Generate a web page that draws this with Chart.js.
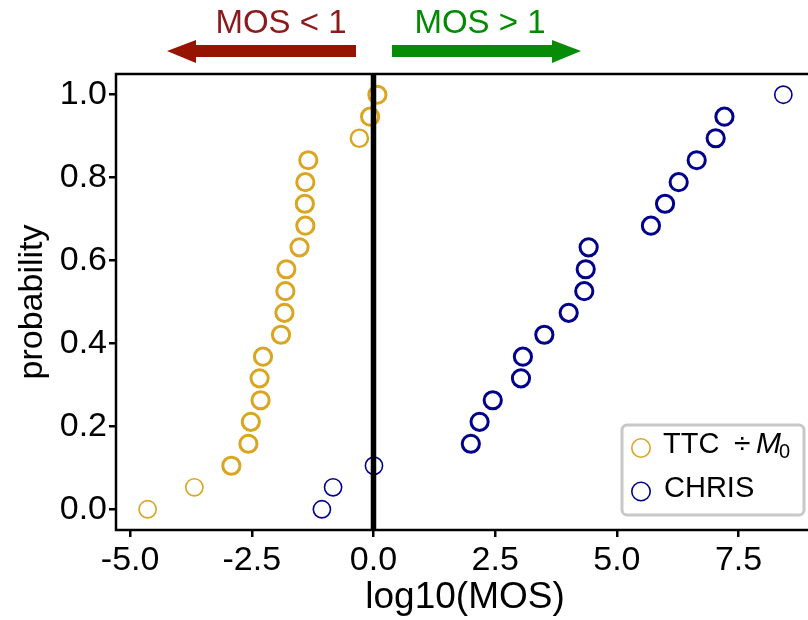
<!DOCTYPE html>
<html>
<head>
<meta charset="utf-8">
<script src="https://cdn.jsdelivr.net/npm/chart.js@4/dist/chart.umd.min.js"></script>
<style>
  html, body { margin: 0; padding: 0; background: #fff; overflow: hidden; }
  canvas { display: block; }
</style>
</head>
<body>
<canvas id="mos" width="830" height="620"></canvas>
<script>
// probabilidade acumulada (20 pontos por série)
var probability = [0.000, 0.053, 0.105, 0.158, 0.211, 0.263, 0.316, 0.368, 0.421, 0.474,
                   0.526, 0.579, 0.632, 0.684, 0.737, 0.789, 0.842, 0.895, 0.947, 1.000];
var ttcMos = [-4.64, -3.68, -2.92, -2.57, -2.52, -2.32, -2.34, -2.27, -1.90, -1.83,
              -1.81, -1.79, -1.52, -1.40, -1.41, -1.40, -1.34, -0.29, -0.07, 0.08];
var chrisMos = [-1.06, -0.83, 0.01, 2.00, 2.18, 2.45, 3.03, 3.07, 3.51, 4.01,
                4.33, 4.36, 4.42, 5.70, 5.99, 6.27, 6.64, 7.03, 7.21, 8.42];
var xTicks = [-5.0, -2.5, 0.0, 2.5, 5.0, 7.5];
var yTicks = [0.0, 0.2, 0.4, 0.6, 0.8, 1.0];

var gold = '#DAA520';
var navy = '#00008B';
var font = '"Liberation Sans", Arial, sans-serif';

function toPoints(xs) {
    return xs.map(function (x, i) { return { x: x, y: probability[i] }; });
}

// caixa do painel, linha do zero, setas e legenda
var decorations = {
    id: 'decorations',
    afterDatasetsDraw: function (chart) {
        var ctx = chart.ctx;
        var a = chart.chartArea;
        var x0 = chart.scales.x.getPixelForValue(0);
        ctx.save();
        ctx.strokeStyle = '#000';
        ctx.lineWidth = 5.5;
        ctx.beginPath();
        ctx.moveTo(x0, a.top);
        ctx.lineTo(x0, a.bottom);
        ctx.stroke();
        ctx.lineWidth = 2.5;
        ctx.strokeRect(a.left, a.top, a.right - a.left, a.bottom - a.top);
        ctx.restore();
    },
    afterDraw: function (chart) {
        var ctx = chart.ctx;
        ctx.save();
        // setas
        ctx.fillStyle = '#961300';
        ctx.fillRect(195, 45, 161, 12);
        ctx.beginPath();
        ctx.moveTo(196, 40); ctx.lineTo(167, 51); ctx.lineTo(196, 63); ctx.closePath();
        ctx.fill();
        ctx.fillStyle = '#078C07';
        ctx.fillRect(392, 45, 161, 12);
        ctx.beginPath();
        ctx.moveTo(552, 40); ctx.lineTo(581, 51); ctx.lineTo(552, 63); ctx.closePath();
        ctx.fill();
        ctx.font = '33px ' + font;
        ctx.textAlign = 'center';
        ctx.textBaseline = 'alphabetic';
        ctx.fillStyle = '#8B1A1A';
        ctx.fillText('MOS < 1', 281, 33);
        ctx.fillStyle = '#008B00';
        ctx.fillText('MOS > 1', 480, 33);

        // legenda
        ctx.fillStyle = '#fff';
        ctx.strokeStyle = '#C8C8C8';
        ctx.lineWidth = 3;
        ctx.beginPath();
        ctx.roundRect(622, 425, 182, 90, 5);
        ctx.fill();
        ctx.stroke();
        ctx.lineWidth = 1.6;
        ctx.strokeStyle = gold;
        ctx.beginPath(); ctx.arc(641, 448, 9.2, 0, Math.PI * 2); ctx.stroke();
        ctx.strokeStyle = navy;
        ctx.beginPath(); ctx.arc(641, 491.5, 9.2, 0, Math.PI * 2); ctx.stroke();
        ctx.fillStyle = '#000';
        ctx.textAlign = 'left';
        ctx.font = '29px ' + font;
        ctx.fillText('TTC', 663, 453);
        ctx.fillText('CHRIS', 664, 497);
        ctx.font = '30px ' + font;
        ctx.fillText('\u00F7', 734, 453);
        ctx.font = 'italic 30px ' + font;
        ctx.fillText('M', 756, 453);
        var mw = ctx.measureText('M').width;
        ctx.font = '20px ' + font;
        ctx.fillText('0', 756 + mw - 2, 458);
        ctx.restore();
    }
};

var ctx = document.getElementById('mos');
var chart = new Chart(ctx, {
    type: 'scatter',
    data: {
        datasets: [{
            label: 'TTC \u00F7 M0',
            data: toPoints(ttcMos),
            borderColor: gold,
            backgroundColor: 'rgba(0,0,0,0)',
            pointRadius: 8.6,
            borderWidth: function (c) { return c.dataIndex < 2 ? 1.6 : (c.dataIndex === 17 ? 2.4 : 3); }
        }, {
            label: 'CHRIS',
            data: toPoints(chrisMos),
            borderColor: navy,
            backgroundColor: 'rgba(0,0,0,0)',
            pointRadius: 8.6,
            borderWidth: function (c) { return (c.dataIndex < 3 || c.dataIndex === 19) ? 1.6 : 3; }
        }]
    },
    options: {
        responsive: false,
        devicePixelRatio: 1,
        animation: false,
        layout: { padding: { top: 74, right: 16, left: 0, bottom: 0 } },
        plugins: {
            legend: { display: false },
            tooltip: { enabled: false }
        },
        scales: {
            x: {
                type: 'linear',
                min: -5.29,
                max: 9.05,
                afterBuildTicks: function (axis) {
                    axis.ticks = xTicks.map(function (v) { return { value: v }; });
                },
                afterFit: function (axis) { axis.height = 90; },
                ticks: {
                    color: '#000',
                    font: { family: font, size: 34 },
                    padding: 3,
                    maxRotation: 0,
                    callback: function (v) { return v.toFixed(1); }
                },
                grid: { drawOnChartArea: false, color: '#000', lineWidth: 2.5, tickLength: 7 },
                border: { display: false },
                title: {
                    display: true,
                    text: 'log10(MOS)',
                    color: '#000',
                    font: { family: font, size: 37 },
                    padding: { top: 0, bottom: 0 }
                }
            },
            y: {
                min: -0.05,
                max: 1.05,
                afterBuildTicks: function (axis) {
                    axis.ticks = yTicks.map(function (v) { return { value: v }; });
                },
                afterFit: function (axis) { axis.width = 116; },
                ticks: {
                    color: '#000',
                    font: { family: font, size: 34 },
                    padding: 2,
                    callback: function (v) { return v.toFixed(1); }
                },
                grid: { drawOnChartArea: false, color: '#000', lineWidth: 2.5, tickLength: 7 },
                border: { display: false },
                title: {
                    display: true,
                    text: 'probability',
                    color: '#000',
                    font: { family: font, size: 34 },
                    padding: { top: 12, bottom: 0 }
                }
            }
        }
    },
    plugins: [decorations]
});
</script>
</body>
</html>
